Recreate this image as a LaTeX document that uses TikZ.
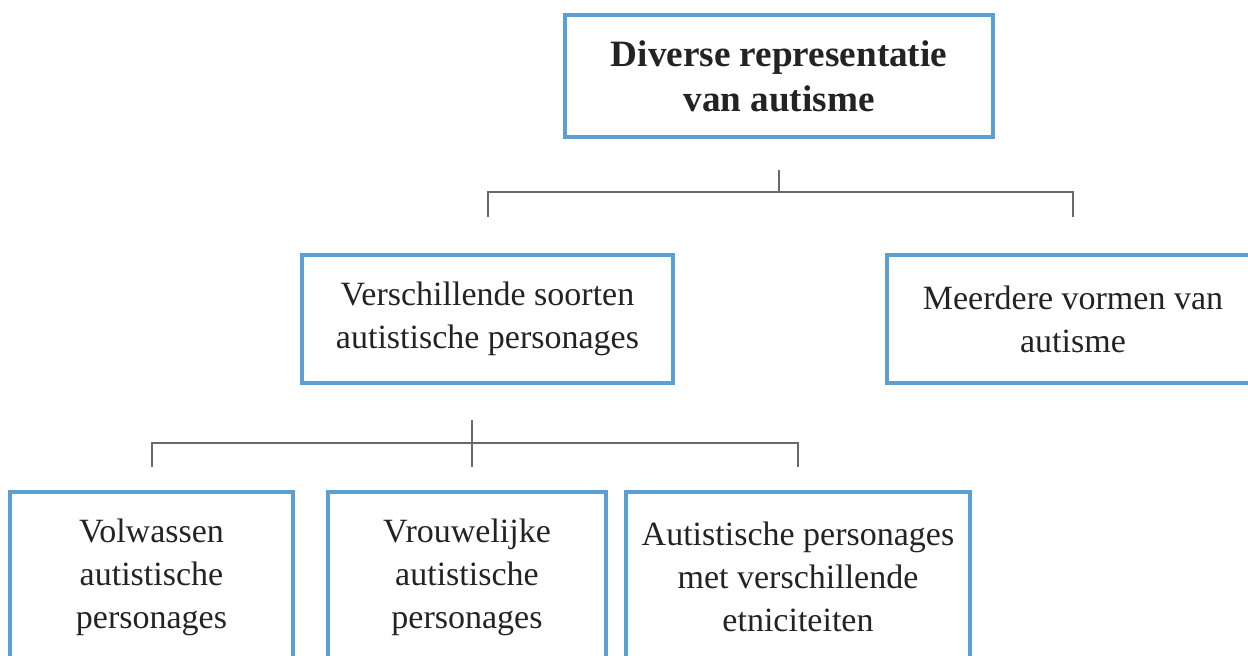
\documentclass[tikz,border=0pt]{standalone}
\usepackage{fontspec}
\setmainfont{Liberation Serif}
\definecolor{boxblue}{RGB}{90,160,212}
\definecolor{linegray}{RGB}{105,105,105}
\definecolor{textgray}{RGB}{35,35,35}
\begin{document}
\begin{tikzpicture}[x=0.5pt, y=-0.5pt,
  box/.style={draw=boxblue, line width=1.6pt, align=center, text=textgray, inner sep=0pt, font=\fontsize{17}{21.5}\selectfont},
  conn/.style={draw=linegray, line width=0.75pt}]

\clip (0,0) rectangle (1248,655);

\node[box, minimum width=214pt, minimum height=61pt, font=\bfseries\fontsize{18.6}{22.5}\selectfont] (top) at (779,76) {Diverse representatie\\van autisme};

\node[box, minimum width=185.5pt, minimum height=64pt] (soorten) at (487.5,319) {Verschillende soorten\\autistische personages};
\node[box, minimum width=186pt, minimum height=64pt] (vormen) at (1073,319) {Meerdere vormen van\\autisme};

\node[box, minimum width=141.5pt, minimum height=85pt] (volw) at (151.5,577) {Volwassen\\autistische\\personages};
\node[box, minimum width=139pt, minimum height=85pt] (vrouw) at (467,577) {Vrouwelijke\\autistische\\personages};
\node[box, minimum width=172pt, minimum height=85pt] (etn) at (798,577) {Autistische personages\\met verschillende\\etniciteiten};

\coordinate (t1) at (779,170);
\coordinate (j1) at (779,192);
\coordinate (d1) at (488,217);
\coordinate (d2) at (1073,217);

\draw[conn] (t1) -- (j1);
\draw[conn] (d1) |- (j1) -| (d2);

\coordinate (t2) at (472,420);
\coordinate (j2) at (472,443);
\coordinate (e1) at (152,467);
\coordinate (e2) at (472,467);
\coordinate (e3) at (798,467);

\draw[conn] (t2) -- (e2);
\draw[conn] (e1) |- (j2) -| (e3);
\end{tikzpicture}
\end{document}
